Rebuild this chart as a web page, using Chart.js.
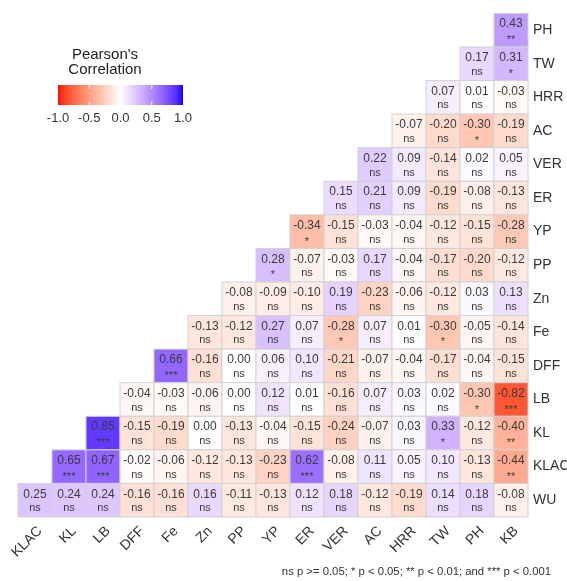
<!DOCTYPE html>
<html>
<head>
<meta charset="utf-8">
<script src="https://cdn.jsdelivr.net/npm/chart.js@4.4.1/dist/chart.umd.min.js"></script>
<style>
  html, body { margin: 0; padding: 0; background: #fff; }
  #wrap { width: 567px; height: 581px; }
</style>
</head>
<body>
<div id="wrap"><canvas id="corrChart" width="567" height="581"></canvas></div>
<script>
// nama kolom (sumbu x) dan baris (sumbu y, dari atas)
const colNames = ['KLAC', 'KL', 'LB', 'DFF', 'Fe', 'Zn', 'PP', 'YP', 'ER', 'VER', 'AC', 'HRR', 'TW', 'PH', 'KB'];
const rowNames = ['PH', 'TW', 'HRR', 'AC', 'VER', 'ER', 'YP', 'PP', 'Zn', 'Fe', 'DFF', 'LB', 'KL', 'KLAC', 'WU'];

// nilai r tiap baris, rata kanan (kolom terakhir = KB)
const rPH   = [0.43];
const rTW   = [0.17, 0.31];
const rHRR  = [0.07, 0.01, -0.03];
const rAC   = [-0.07, -0.20, -0.30, -0.19];
const rVER  = [0.22, 0.09, -0.14, 0.02, 0.05];
const rER   = [0.15, 0.21, 0.09, -0.19, -0.08, -0.13];
const rYP   = [-0.34, -0.15, -0.03, -0.04, -0.12, -0.15, -0.28];
const rPP   = [0.28, -0.07, -0.03, 0.17, -0.04, -0.17, -0.20, -0.12];
const rZn   = [-0.08, -0.09, -0.10, 0.19, -0.23, -0.06, -0.12, 0.03, 0.13];
const rFe   = [-0.13, -0.12, 0.27, 0.07, -0.28, 0.07, 0.01, -0.30, -0.05, -0.14];
const rDFF  = [0.66, -0.16, 0.00, 0.06, 0.10, -0.21, -0.07, -0.04, -0.17, -0.04, -0.15];
const rLB   = [-0.04, -0.03, -0.06, 0.00, 0.12, 0.01, -0.16, 0.07, 0.03, 0.02, -0.30, -0.82];
const rKL   = [0.85, -0.15, -0.19, 0.00, -0.13, -0.04, -0.15, -0.24, -0.07, 0.03, 0.33, -0.12, -0.40];
const rKLAC = [0.65, 0.67, -0.02, -0.06, -0.12, -0.13, -0.23, 0.62, -0.08, 0.11, 0.05, 0.10, -0.13, -0.44];
const rWU   = [0.25, 0.24, 0.24, -0.16, -0.16, 0.16, -0.11, -0.13, 0.12, 0.18, -0.12, -0.19, 0.14, 0.18, -0.08];

// label signifikansi, urutan sama dengan nilai r
const sPH   = ['**'];
const sTW   = ['ns', '*'];
const sHRR  = ['ns', 'ns', 'ns'];
const sAC   = ['ns', 'ns', '*', 'ns'];
const sVER  = ['ns', 'ns', 'ns', 'ns', 'ns'];
const sER   = ['ns', 'ns', 'ns', 'ns', 'ns', 'ns'];
const sYP   = ['*', 'ns', 'ns', 'ns', 'ns', 'ns', 'ns'];
const sPP   = ['*', 'ns', 'ns', 'ns', 'ns', 'ns', 'ns', 'ns'];
const sZn   = ['ns', 'ns', 'ns', 'ns', 'ns', 'ns', 'ns', 'ns', 'ns'];
const sFe   = ['ns', 'ns', 'ns', 'ns', '*', 'ns', 'ns', '*', 'ns', 'ns'];
const sDFF  = ['***', 'ns', 'ns', 'ns', 'ns', 'ns', 'ns', 'ns', 'ns', 'ns', 'ns'];
const sLB   = ['ns', 'ns', 'ns', 'ns', 'ns', 'ns', 'ns', 'ns', 'ns', 'ns', '*', '***'];
const sKL   = ['***', 'ns', 'ns', 'ns', 'ns', 'ns', 'ns', 'ns', 'ns', 'ns', '*', 'ns', '**'];
const sKLAC = ['***', '***', 'ns', 'ns', 'ns', 'ns', 'ns', '***', 'ns', 'ns', 'ns', 'ns', 'ns', '**'];
const sWU   = ['ns', 'ns', 'ns', 'ns', 'ns', 'ns', 'ns', 'ns', 'ns', 'ns', 'ns', 'ns', 'ns', 'ns', 'ns'];

const legendTicks = [-1.0, -0.5, 0.0, 0.5, 1.0];
const legendTitle = ["Pearson's", 'Correlation'];
const footNote = 'ns p >= 0.05; * p < 0.05; ** p < 0.01; and *** p < 0.001';

const rRows = [rPH, rTW, rHRR, rAC, rVER, rER, rYP, rPP, rZn, rFe, rDFF, rLB, rKL, rKLAC, rWU];
const sRows = [sPH, sTW, sHRR, sAC, sVER, sER, sYP, sPP, sZn, sFe, sDFF, sLB, sKL, sKLAC, sWU];

const FONT = '"Liberation Sans", Arial, sans-serif';

// --- warna: interpolasi Lab merah - putih - biru ---
function toLin(c) { c /= 255; return c <= 0.04045 ? c / 12.92 : Math.pow((c + 0.055) / 1.055, 2.4); }
function fromLin(c) { c = c <= 0.0031308 ? 12.92 * c : 1.055 * Math.pow(c, 1 / 2.4) - 0.055; return Math.round(Math.max(0, Math.min(1, c)) * 255); }
function rgbToLab(rgb) {
  const R = toLin(rgb[0]), G = toLin(rgb[1]), B = toLin(rgb[2]);
  const X = (0.4124 * R + 0.3576 * G + 0.1805 * B) / 0.95047;
  const Y = (0.2126 * R + 0.7152 * G + 0.0722 * B);
  const Z = (0.0193 * R + 0.1192 * G + 0.9505 * B) / 1.08883;
  const f = t => t > 0.008856 ? Math.cbrt(t) : 7.787 * t + 16 / 116;
  const fx = f(X), fy = f(Y), fz = f(Z);
  return [116 * fy - 16, 500 * (fx - fy), 200 * (fy - fz)];
}
function labToRgb(lab) {
  const fy = (lab[0] + 16) / 116, fx = fy + lab[1] / 500, fz = fy - lab[2] / 200;
  const g = t => t > 0.206893 ? t * t * t : (t - 16 / 116) / 7.787;
  const X = g(fx) * 0.95047, Y = g(fy), Z = g(fz) * 1.08883;
  const R = 3.2406 * X - 1.5372 * Y - 0.4986 * Z;
  const G = -0.9689 * X + 1.8758 * Y + 0.0415 * Z;
  const B = 0.0557 * X - 0.2040 * Y + 1.0570 * Z;
  return [fromLin(R), fromLin(G), fromLin(B)];
}
const labWhite = rgbToLab([255, 255, 255]);
const labRed = rgbToLab([255, 0, 0]);
const labBlue = rgbToLab([0, 0, 255]);
function corrColor(v) {
  const t = Math.min(1, Math.abs(v));
  const end = v < 0 ? labRed : labBlue;
  const lab = labWhite.map((w, i) => w + (end[i] - w) * t);
  const c = labToRgb(lab);
  return `rgb(${c[0]},${c[1]},${c[2]})`;
}

// titik data untuk tiap sel
const cells = [];
rRows.forEach((vals, i) => {
  const start = colNames.length - vals.length;
  vals.forEach((v, j) => {
    cells.push({ x: colNames[start + j], y: rowNames[i], v: v, s: sRows[i][j] });
  });
});

// plugin untuk menggambar sel heatmap + teks
const heatmapPlugin = {
  id: 'heatmapCells',
  beforeDatasetsDraw(chart) {
    const ctx = chart.ctx;
    const xs = chart.scales.x, ys = chart.scales.y;
    const w = xs.width / colNames.length;
    const h = ys.height / rowNames.length;
    const meta = chart.getDatasetMeta(0);
    ctx.save();
    meta.data.forEach((el, k) => {
      const d = cells[k];
      ctx.fillStyle = corrColor(d.v);
      ctx.fillRect(el.x - w / 2, el.y - h / 2, w, h);
      ctx.strokeStyle = '#d2d2d2';
      ctx.lineWidth = 1;
      ctx.strokeRect(el.x - w / 2, el.y - h / 2, w, h);
    });
    meta.data.forEach((el, k) => {
      const d = cells[k];
      ctx.fillStyle = '#3a3a3a';
      ctx.textAlign = 'center';
      ctx.textBaseline = 'middle';
      ctx.font = '12px ' + FONT;
      ctx.fillText(d.v.toFixed(2), el.x, el.y - 6);
      ctx.font = '11px ' + FONT;
      ctx.fillText(d.s, el.x, el.y + (d.s === 'ns' ? 8 : 10));
    });
    ctx.restore();
  },
  afterDraw(chart) {
    const ctx = chart.ctx;
    ctx.save();
    // judul legenda
    ctx.fillStyle = '#222';
    ctx.font = '15px ' + FONT;
    ctx.textAlign = 'center';
    ctx.textBaseline = 'middle';
    ctx.fillText(legendTitle[0], 105, 55);
    ctx.fillText(legendTitle[1], 105, 70);
    // bar gradien
    const bx0 = 58, bx1 = 183, by0 = 85, by1 = 105;
    for (let x = bx0; x < bx1; x++) {
      const v = -1 + 2 * (x + 0.5 - bx0) / (bx1 - bx0);
      ctx.fillStyle = corrColor(v);
      ctx.fillRect(x, by0, 1, by1 - by0);
    }
    // tanda tick putih + label
    ctx.strokeStyle = '#fff';
    ctx.lineWidth = 1;
    ctx.font = '13px ' + FONT;
    ctx.fillStyle = '#333';
    legendTicks.forEach(t => {
      const px = bx0 + (t + 1) / 2 * (bx1 - bx0);
      if (Math.abs(t) < 1) {
        ctx.beginPath();
        ctx.moveTo(px, by0); ctx.lineTo(px, by0 + 4);
        ctx.moveTo(px, by1 - 4); ctx.lineTo(px, by1);
        ctx.stroke();
      }
      ctx.fillText(t.toFixed(1), px, 118);
    });
    // catatan kaki
    ctx.font = '11.3px ' + FONT;
    ctx.textAlign = 'right';
    ctx.fillStyle = '#333';
    ctx.fillText(footNote, 551, 572);
    ctx.restore();
  }
};

new Chart(document.getElementById('corrChart'), {
  type: 'scatter',
  data: {
    datasets: [{
      data: cells,
      pointRadius: 0,
      pointHoverRadius: 0
    }]
  },
  options: {
    responsive: false,
    animation: false,
    devicePixelRatio: 1,
    layout: { padding: { left: 18, top: 8, right: 0, bottom: 0 } },
    plugins: {
      legend: { display: false },
      tooltip: { enabled: false }
    },
    scales: {
      x: {
        type: 'category',
        labels: colNames,
        offset: true,
        grid: { display: false, drawTicks: false },
        border: { display: false },
        afterFit: s => { s.height = 64; },
        ticks: {
          autoSkip: false,
          minRotation: 45,
          maxRotation: 45,
          padding: 6,
          labelOffset: 5,
          color: '#333',
          font: { family: FONT, size: 14 }
        }
      },
      y: {
        type: 'category',
        labels: rowNames,
        position: 'right',
        offset: true,
        grid: { display: false, drawTicks: false },
        border: { display: false },
        afterFit: s => { s.width = 39; },
        ticks: {
          autoSkip: false,
          padding: 5,
          color: '#333',
          font: { family: FONT, size: 14 }
        }
      }
    }
  },
  plugins: [heatmapPlugin]
});
</script>
</body>
</html>
